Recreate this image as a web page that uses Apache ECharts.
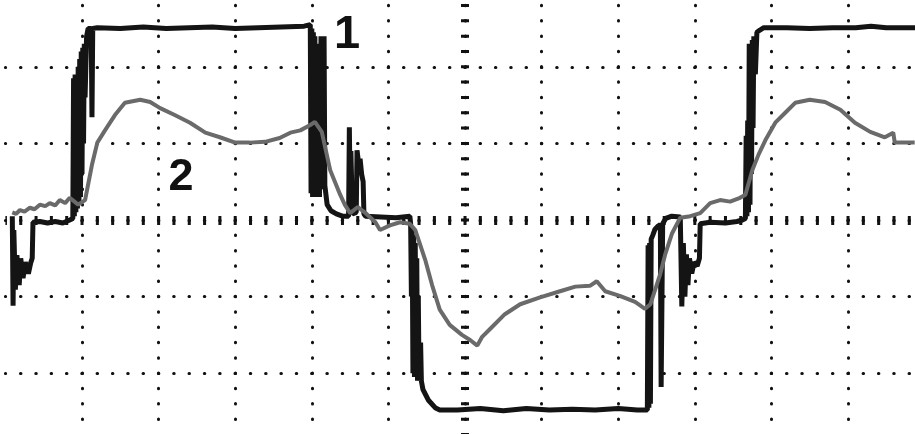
<!DOCTYPE html>
<html>
<head>
<meta charset="utf-8">
<script src="https://cdn.jsdelivr.net/npm/echarts@6/dist/echarts.min.js"></script>
<style>
html, body { margin: 0; padding: 0; background: #fff; }
#chart { width: 915px; height: 434px; }
</style>
</head>
<body>
<div id="chart"></div>
<script>
// screen divisions, centre of the graticule = 0
var t1 = [-5.91, -5.90, -5.89, -5.87, -5.85, -5.82, -5.80, -5.77, -5.74, -5.70, -5.67, -5.65, -5.64, -5.55, -5.45, -5.35, -5.25, -5.16,
	-5.12, -5.11, -5.10, -5.09, -5.08, -5.07, -5.06, -5.05, -5.04, -5.03, -5.02, -5.01, -5.00, -4.99, -4.98, -4.97, -4.96, -4.94, -4.92, -4.90, -4.88, -4.87, -4.86,
	-4.80, -4.50, -4.20, -3.90, -3.60, -3.30, -3.00, -2.70, -2.40, -2.10, -2.02,
	-2.01, -2.00, -1.99, -1.98, -1.97, -1.96, -1.95, -1.94, -1.93, -1.91, -1.90, -1.88, -1.86, -1.84, -1.83, -1.80, -1.75, -1.68, -1.60,
	-1.52, -1.51, -1.50, -1.49, -1.47, -1.42, -1.41, -1.39, -1.37, -1.35, -1.33, -1.32, -1.30, -1.10, -0.90, -0.72,
	-0.71, -0.70, -0.69, -0.68, -0.67, -0.66, -0.65, -0.64, -0.63, -0.62, -0.61, -0.60, -0.58, -0.57, -0.55, -0.48, -0.39, -0.33,
	-0.10, 0.20, 0.50, 0.80, 1.10, 1.40, 1.70, 2.00, 2.25, 2.38,
	2.39, 2.40, 2.41, 2.42, 2.43, 2.45, 2.48, 2.52, 2.55, 2.56, 2.58, 2.62, 2.70, 2.81,
	2.83, 2.85, 2.87, 2.89, 2.91, 2.93, 2.96, 2.99, 3.03, 3.06, 3.07, 3.20, 3.40, 3.55, 3.62,
	3.66, 3.67, 3.68, 3.69, 3.70, 3.71, 3.72, 3.73, 3.74, 3.75, 3.76, 3.77, 3.79, 3.81, 3.85, 3.90,
	4.20, 4.50, 4.80, 5.10, 5.30, 5.50, 5.90];
var v1 = [0.05, -1.12, -0.13, -0.91, -0.46, -0.85, -0.50, -0.76, -0.55, -0.70, -0.56, -0.50, -0.03, -0.02, -0.04, -0.02, -0.04, 0.00,
	0.02, 1.85, 0.05, 1.90, 0.10, 1.90, 0.15, 2.00, 0.20, 2.10, 0.30, 2.20, 0.60, 2.25, 1.00, 2.30, 1.60, 2.40, 2.50, 2.52, 2.50, 1.34, 2.50,
	2.51, 2.50, 2.52, 2.50, 2.51, 2.52, 2.50, 2.51, 2.52, 2.53, 2.55,
	0.35, 2.50, 0.30, 2.45, 0.30, 2.40, 0.35, 2.30, 0.30, 2.00, 0.30, 2.40, 0.40, 2.40, 0.45, 0.20, 0.12, 0.08, 0.05,
	0.05, 1.21, 0.30, 0.90, 0.08, 0.10, 0.91, 0.75, 0.80, 0.60, 0.50, 0.08, 0.05, 0.04, 0.03, 0.05,
	-0.05, -1.00, -0.10, -2.00, -0.20, -2.05, -0.30, -2.05, -0.50, -2.10, -1.00, -2.10, -1.60, -2.10, -2.21, -2.35, -2.45, -2.48,
	-2.48, -2.46, -2.49, -2.46, -2.48, -2.47, -2.48, -2.46, -2.48, -2.48,
	-0.33, -2.45, -0.30, -2.40, -0.25, -0.20, -0.12, -0.08, -0.06, -2.18, -0.05, 0.02, 0.05, 0.04,
	-1.13, -0.30, -1.00, -0.45, -0.85, -0.50, -0.70, -0.55, -0.60, -0.50, -0.05, -0.03, -0.04, -0.02, 0.00,
	0.02, 1.10, 0.05, 1.30, 0.10, 2.30, 0.20, 2.30, 0.60, 2.35, 1.20, 2.40, 1.90, 2.45, 2.48, 2.51,
	2.51, 2.50, 2.51, 2.51, 2.53, 2.51, 2.51];

var t2 = [-5.91, -5.86, -5.81, -5.75, -5.68, -5.62, -5.55, -5.48, -5.42, -5.35, -5.29, -5.22, -5.16, -5.05, -4.96, -4.87, -4.80, -4.70, -4.57, -4.44,
	-4.24, -4.11, -3.98, -3.79, -3.59, -3.39, -3.20, -3.00, -2.81, -2.61, -2.42, -2.28, -2.15, -2.02, -1.96, -1.87, -1.76, -1.63, -1.57, -1.50,
	-1.40, -1.31, -1.17, -1.11, -0.98, -0.85, -0.72, -0.65, -0.52, -0.43, -0.33, -0.20, -0.04, 0.07, 0.16, 0.22, 0.33, 0.52, 0.72, 0.98,
	1.24, 1.44, 1.63, 1.72, 1.83, 2.02, 2.22, 2.35, 2.42, 2.55, 2.61, 2.70, 2.81, 2.94, 3.07, 3.20, 3.33, 3.46, 3.59, 3.66,
	3.75, 3.83, 3.92, 4.05, 4.18, 4.31, 4.50, 4.70, 4.90, 5.09, 5.29, 5.48, 5.59, 5.61, 5.87];
var v2 = [0.10, 0.08, 0.13, 0.11, 0.16, 0.14, 0.20, 0.18, 0.22, 0.19, 0.26, 0.22, 0.29, 0.20, 0.26, 0.72, 1.01, 1.17, 1.37, 1.53,
	1.57, 1.54, 1.46, 1.37, 1.27, 1.14, 1.08, 1.01, 1.01, 1.02, 1.07, 1.14, 1.17, 1.24, 1.28, 1.15, 0.65, 0.33, 0.20, 0.09,
	0.17, 0.10, -0.03, -0.13, -0.07, -0.03, -0.05, -0.13, -0.52, -0.85, -1.17, -1.37, -1.50, -1.57, -1.64, -1.53, -1.42, -1.23, -1.10, -1.01,
	-0.93, -0.87, -0.86, -0.80, -0.93, -0.99, -1.07, -1.16, -1.10, -0.70, -0.46, -0.18, 0.03, 0.05, 0.09, 0.22, 0.26, 0.24, 0.29, 0.33,
	0.65, 0.85, 1.04, 1.27, 1.40, 1.53, 1.57, 1.54, 1.44, 1.27, 1.15, 1.08, 1.14, 1.01, 1.01];

var traceLabels = ['1', '2'];

// visible part of the screen, in divisions
var xMin = -6, xMax = 5.874;
var yMin = -2.794, yMax = 2.872;

var pts1 = t1.map(function (t, i) { return [t, v1[i]]; });
var pts2 = t2.map(function (t, i) { return [t, v2[i]]; });

var dots = [0.5, 14.82];   // one dot per minor division (76.6 / 5)
var centreDash = [3, 12.32];
var myChart = echarts.init(document.getElementById('chart'));

var option = {
	backgroundColor: '#fff',
	animation: false,
	grid: {
		left: 5.4,
		right: 0,
		top: 0,
		bottom: 0
	},
	xAxis: {
		type: 'value',
		min: xMin,
		max: xMax,
		interval: 1,
		axisLine: { show: false },
		axisTick: { show: false },
		axisLabel: { show: false },
		splitLine: {
			show: true,
			showMinLine: false,
			showMaxLine: false,
			lineStyle: { color: '#111', width: 3, type: dots, dashOffset: 10.05, cap: 'round' }
		}
	},
	yAxis: {
		type: 'value',
		min: yMin,
		max: yMax,
		minInterval: 1,
		maxInterval: 1,
		axisLine: { show: false },
		axisTick: { show: false },
		axisLabel: { show: false },
		splitLine: {
			show: true,
			showMinLine: false,
			showMaxLine: false,
			lineStyle: { color: '#111', width: 3, type: dots, dashOffset: 0.25, cap: 'round' }
		}
	},
	series: [
		{
			name: traceLabels[0],
			type: 'line',
			z: 2,
			symbol: 'none',
			data: pts1,
			lineStyle: { color: '#141414', width: 5 },
			markLine: {
				silent: true,
				z: 1,
				symbol: 'none',
				label: { show: false },
				// centre cross, drawn outward from the centre so the ticks line up
				data: [
					[{ coord: [0, 0], lineStyle: { color: '#111', width: 8, type: centreDash, dashOffset: 1.5, cap: 'butt' } }, { coord: [0, yMax] }],
					[{ coord: [0, 0], lineStyle: { color: '#111', width: 8, type: centreDash, dashOffset: 1.5, cap: 'butt' } }, { coord: [0, yMin] }],
					[{ coord: [0, 0], lineStyle: { color: '#111', width: 9, type: centreDash, dashOffset: 1.5, cap: 'butt' } }, { coord: [xMin, 0] }],
					[{ coord: [0, 0], lineStyle: { color: '#111', width: 9, type: centreDash, dashOffset: 1.5, cap: 'butt' } }, { coord: [xMax, 0] }]
				]
			}
		},
		{
			name: traceLabels[1],
			type: 'line',
			z: 3,
			symbol: 'none',
			data: pts2,
			lineStyle: { color: '#6a6a6a', width: 4 }
		}
	],
	graphic: [
		{ type: 'text', x: 347, y: 35, style: { text: traceLabels[0], font: 'bold 47px "Liberation Sans", Arial, sans-serif', fill: '#111', align: 'center', verticalAlign: 'middle' } },
		{ type: 'text', x: 181, y: 178, style: { text: traceLabels[1], font: 'bold 45px "Liberation Sans", Arial, sans-serif', fill: '#111', align: 'center', verticalAlign: 'middle' } }
	]
};

myChart.setOption(option);
</script>
</body>
</html>
